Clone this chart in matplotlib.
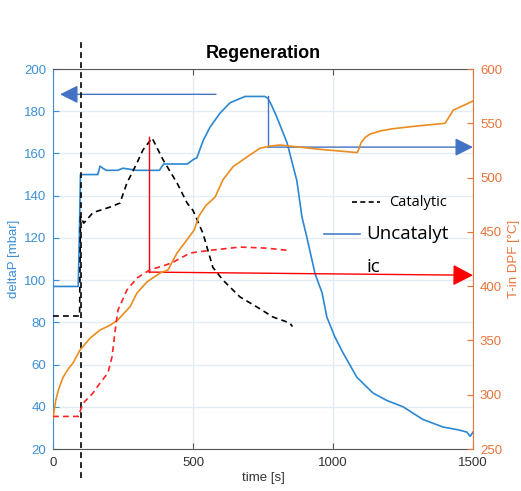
import matplotlib
matplotlib.use("Agg")
import matplotlib.pyplot as plt
import numpy as np

# ---- data ----
# uncatalytic deltaP [mbar]
t_unc = [0, 90, 94, 98, 160, 168, 178, 190, 230, 250, 300, 340, 380, 395, 410, 480,
         500, 514, 536, 561, 596, 632, 686, 757, 768, 780, 800, 836, 871, 889, 907, 936,
         961, 978, 1007, 1036, 1085, 1143, 1192, 1250, 1321, 1393, 1450, 1478, 1490, 1500]
dp_unc = [97, 97, 120, 150, 150, 154, 153, 152, 152, 153, 152, 152, 152, 155, 155, 155,
          157, 158, 166, 172.5, 179, 184, 187, 187, 186, 183, 177, 165, 147, 130, 120, 103,
          94, 82.5, 73, 65.5, 54, 46.5, 43, 40, 34, 30.4, 29, 28, 26, 28]

# catalytic deltaP [mbar]
t_cat = [0, 95, 98, 110, 143, 204, 239, 264, 300, 321, 354, 393, 443, 479, 500, 536,
         571, 607, 668, 728, 786, 846, 855]
dp_cat = [83, 83, 130, 127, 132, 134.6, 136.5, 146, 155.5, 161.6, 167.3, 157, 146,
          136.5, 133, 122, 106, 100, 92, 87.3, 82.5, 79.7, 78]

# uncatalytic T-in DPF [°C]
t_unc_T = [0, 10, 20, 36, 55, 71, 96, 132, 168, 204, 232, 275, 300, 336, 382, 411, 425,
           443, 478, 505, 520, 545, 579, 607, 643, 693, 739, 775, 811, 882, 954, 1061,
           1086, 1092, 1100, 1115, 1132, 1170, 1214, 1300, 1400, 1415, 1429, 1454, 1500]
T_unc = [278.5, 295, 305, 316, 324, 329, 341, 352, 359.6, 364, 369, 381, 393.7, 404,
         412, 415, 422, 430.5, 442.5, 452, 464, 474, 482, 498, 510, 519, 527, 529, 530,
         528, 526, 523.6, 523, 526, 532, 537, 540, 543, 545, 547.5, 550, 556, 562, 565,
         570.5]

# catalytic T-in DPF [°C]
t_cat_T = [0, 90, 107, 143, 168, 196, 211, 221, 232, 264, 300, 346, 393, 429, 489, 561,
           668, 764, 836]
T_cat = [280, 280, 292, 301.6, 310.8, 320, 335, 357, 378, 396.4, 407.5, 415, 418.6, 422,
         430.5, 433, 436, 435, 433]

x_ticks = [0, 500, 1000, 1500]
left_ticks = [20, 40, 60, 80, 100, 120, 140, 160, 180, 200]
right_ticks = [250, 300, 350, 400, 450, 500, 550, 600]

BLUE = '#2b87d1'
ORANGE = '#ea8c1e'
RED = '#ff2222'
TICK_BLUE = '#3d8fd6'
TICK_ORANGE = '#e8743b'
ARROW_BLUE = '#4472c4'
GRID = '#e3ecf4'

plt.rcParams['font.family'] = ['Liberation Sans', 'DejaVu Sans']

fig = plt.figure(figsize=(5.21, 4.91), dpi=100)
ax = fig.add_axes([53/521, 1-449/491, 420/521, 380/491])
ax2 = ax.twinx()

ax.set_xlim(0, 1500)
ax.set_ylim(20, 200)
ax2.set_ylim(250, 600)

ax.set_xticks(x_ticks)
ax.set_yticks(left_ticks)
ax2.set_yticks(right_ticks)

ax.grid(True, color=GRID, linewidth=1)
ax.set_axisbelow(True)

ax.plot(t_unc, dp_unc, color=BLUE, lw=1.2, zorder=3)
ax.plot(t_cat, dp_cat, color='black', lw=1.2, ls=(0, (3.5, 2.5)), zorder=3)
ax2.plot(t_unc_T, T_unc, color=ORANGE, lw=1.2)
ax2.plot(t_cat_T, T_cat, color=RED, lw=1.2, ls=(0, (3.5, 2.5)))

# spines / ticks
for s in ['top', 'bottom']:
    ax.spines[s].set_color('#555555')
ax.spines['left'].set_color(TICK_BLUE)
ax2.spines['left'].set_visible(False)
ax2.spines['right'].set_color(TICK_ORANGE)
ax.spines['right'].set_visible(False)
ax2.spines['top'].set_visible(False)
ax2.spines['bottom'].set_visible(False)

ax.tick_params(axis='x', direction='in', top=True, length=4, colors='#555555',
               labelcolor='#333333', labelsize=9.5, pad=6)
ax.tick_params(axis='y', direction='in', length=4, colors=TICK_BLUE, labelsize=9.5, pad=5)
ax2.tick_params(axis='y', direction='in', length=4, colors=TICK_ORANGE, labelsize=9.5, pad=5)

ax.set_xlabel('time [s]', fontsize=9.5, color='#333333', labelpad=2)
ax.set_ylabel('deltaP [mbar]', fontsize=9.5, color=TICK_BLUE, labelpad=3)
ax2.set_ylabel('T-in DPF [°C]', fontsize=9.5, color=TICK_ORANGE, labelpad=4)

fig.text(263/521, 1-54/491, 'Regeneration', ha='center', va='center',
         fontsize=13, fontweight='bold')

# vertical marker at start of regeneration
ax.plot([100, 100], [-0.076, 1.071], color='black', lw=1.2, ls=(0, (3.5, 2.5)),
        transform=ax.get_xaxis_transform(), clip_on=False, zorder=5)

# blue annotation arrows
ax.annotate('', xy=(25, 188), xytext=(582, 188),
            arrowprops=dict(arrowstyle='-|>,head_length=1.1,head_width=0.55',
                            color=ARROW_BLUE, lw=1, mutation_scale=10,
                            shrinkA=0, shrinkB=0), annotation_clip=False)
ax.plot([768, 768], [187, 163], color=ARROW_BLUE, lw=1, zorder=4)
ax.annotate('', xy=(1500, 163), xytext=(768, 163),
            arrowprops=dict(arrowstyle='-|>,head_length=1.1,head_width=0.55',
                            color=ARROW_BLUE, lw=1, mutation_scale=10,
                            shrinkA=0, shrinkB=0), annotation_clip=False, zorder=4)

# red annotation arrows
ax.plot([343, 343], [168, 103.8], color='red', lw=1, zorder=4)
ax.annotate('', xy=(1500, 102.3), xytext=(343, 103.8),
            arrowprops=dict(arrowstyle='-|>,head_length=1.25,head_width=0.65',
                            color='red', lw=1, mutation_scale=10,
                            shrinkA=0, shrinkB=0), annotation_clip=False, zorder=4)

# hand-made legend
leg_font = ['Open Sans', 'DejaVu Sans']
fig.add_artist(plt.Line2D([352/521, 380/521], [1-202/491, 1-202/491], color='black',
                          lw=1.2, ls=(0, (3, 2))))
fig.text(389/521, 1-202/491, 'Catalytic', ha='left', va='center', fontsize=10.5,
         family=leg_font)
fig.add_artist(plt.Line2D([324/521, 360/521], [1-234/491, 1-234/491], color='#4a7fd0',
                          lw=1.2))
fig.text(366/521, 1-234/491, 'Uncatalyt', ha='left', va='center', fontsize=13.5,
         family=leg_font)
fig.text(366/521, 1-267/491, 'ic', ha='left', va='center', fontsize=13.5,
         family=leg_font)

fig.savefig('out.png', dpi=100)
